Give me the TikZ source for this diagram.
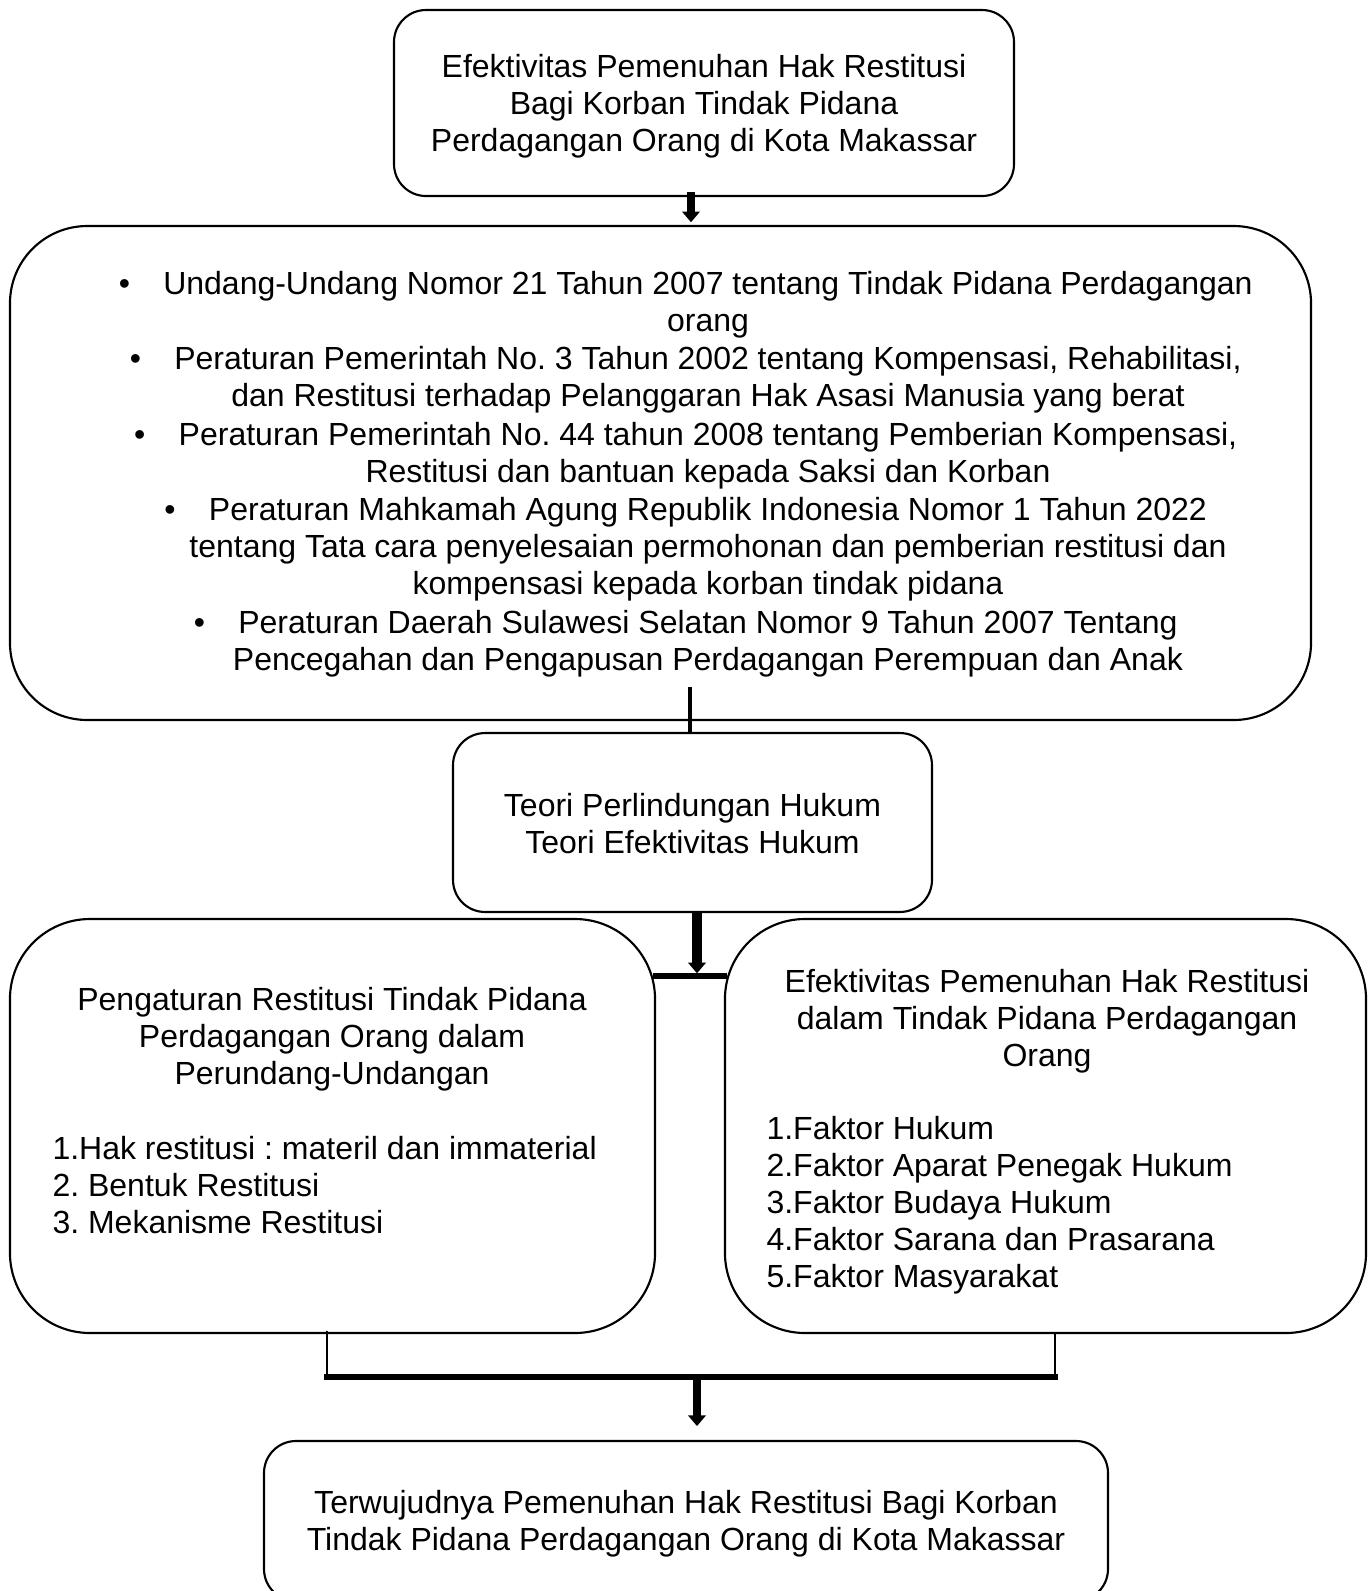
\documentclass[tikz,border=0pt]{standalone}
\usepackage{fontspec}
\setmainfont{Liberation Sans}
\usetikzlibrary{positioning}
\usetikzlibrary{arrows.meta}

\frenchspacing
\newcommand{\lawbullet}{\llap{\textbullet\hspace{12.5pt}}}

\tikzset{
  frame/.style={draw, line width=0.8pt, inner sep=0pt},
  words/.style={inner sep=0pt, font={\fontsize{12pt}{13.875pt}\selectfont}},
  fatarrow/.style={line width=3pt, -{Triangle[length=4pt,width=6.5pt]}},
  joinbar/.style={line width=2.4pt, line cap=rect}
}

\begin{document}
\begin{tikzpicture}[x=0.375pt, y=-0.375pt]
	\useasboundingbox (0,0) rectangle (1368,1591);

	\node[frame, rounded corners=12pt, minimum width=232.5pt, minimum height=69.75pt]
		(goal) at (704,103) {};
	\node[words, align=center] (goaltext) at (704,106)
		{Efektivitas Pemenuhan Hak Restitusi\\Bagi Korban Tindak Pidana\\Perdagangan Orang di Kota Makassar};

	\node[frame, rounded corners=29pt, minimum width=487.9pt, minimum height=185.25pt]
		(laws) at (660.5,473) {};
	\node[words, align=center] (lawlist) at (708,474)
		{\lawbullet Undang-Undang Nomor 21 Tahun 2007 tentang Tindak Pidana Perdagangan\\
		orang\\[0.6pt]
		\lawbullet Peraturan Pemerintah No. 3 Tahun 2002 tentang Kompensasi, Rehabilitasi,\\
		dan Restitusi terhadap Pelanggaran Hak Asasi Manusia yang berat\\[0.6pt]
		\lawbullet Peraturan Pemerintah No. 44 tahun 2008 tentang Pemberian Kompensasi,\\
		Restitusi dan bantuan kepada Saksi dan Korban\\[0.6pt]
		\lawbullet Peraturan Mahkamah Agung Republik Indonesia Nomor 1 Tahun 2022\\
		tentang Tata cara penyelesaian permohonan dan pemberian restitusi dan\\
		kompensasi kepada korban tindak pidana\\[0.6pt]
		\lawbullet Peraturan Daerah Sulawesi Selatan Nomor 9 Tahun 2007 Tentang\\
		Pencegahan dan Pengapusan Perdagangan Perempuan dan Anak};

	\node[frame, rounded corners=12pt, minimum width=179.6pt, minimum height=67.1pt]
		(theory) at (692.5,822.5) {};
	\node[words, align=center] (theorytext) at (692.5,823.5)
		{Teori Perlindungan Hukum\\Teori Efektivitas Hukum};

	\node[frame, rounded corners=30pt, minimum width=241.9pt, minimum height=155.25pt]
		(rules) at (332.5,1126) {};
	\node[words, align=center] (rulestitle) at (332,1039)
		{Pengaturan Restitusi Tindak Pidana\\Perdagangan Orang dalam\\Perundang-Undangan};
	\node[words, align=left, anchor=west] (ruleslist) at (52,1185)
		{1.Hak restitusi : materil dan immaterial\\2. Bentuk Restitusi\\3. Mekanisme Restitusi};

	\node[frame, rounded corners=30pt, minimum width=240.4pt, minimum height=155.25pt]
		(effect) at (1045.5,1126) {};
	\node[words, align=center] (effecttitle) at (1047,1021)
		{Efektivitas Pemenuhan Hak Restitusi\\dalam Tindak Pidana Perdagangan\\Orang};
	\node[words, align=left, anchor=west] (effectlist) at (766,1205)
		{1.Faktor Hukum\\2.Faktor Aparat Penegak Hukum\\3.Faktor Budaya Hukum\\4.Faktor Sarana dan Prasarana\\5.Faktor Masyarakat};

	\node[frame, rounded corners=12pt, minimum width=316.5pt, minimum height=60pt]
		(result) at (686,1521) {};
	\node[words, align=center] (resulttext) at (686,1524)
		{Terwujudnya Pemenuhan Hak Restitusi Bagi Korban\\Tindak Pidana Perdagangan Orang di Kota Makassar};

	\coordinate (topjoin) at (691,192);
	\coordinate (stem) at (690,687);
	\coordinate (midjoin) at (697,976);
	\coordinate (lowL) at (327,1377);
	\coordinate (lowR) at (1055,1377);
	\coordinate (lowM) at (697,1377);

	\draw[fatarrow, shorten >=1pt] (topjoin) -- (topjoin |- laws.north);
	\draw[line width=1.5pt] (stem) -- (stem |- theory.north);
	\draw[fatarrow, line width=3.4pt] (theory.south -| midjoin) -- ([yshift=1pt]midjoin);
	\draw[joinbar] (rules.east |- midjoin) -- (effect.west |- midjoin);
	\draw[line width=1.1pt] ([yshift=1pt]lowL |- rules.south) -- (lowL);
	\draw[line width=1.1pt] (lowR |- effect.south) -- (lowR);
	\draw[joinbar, line width=2.6pt] (lowL) -- (lowR);
	\draw[fatarrow, shorten >=5.2pt] (lowM) -- (lowM |- result.north);
\end{tikzpicture}
\end{document}
